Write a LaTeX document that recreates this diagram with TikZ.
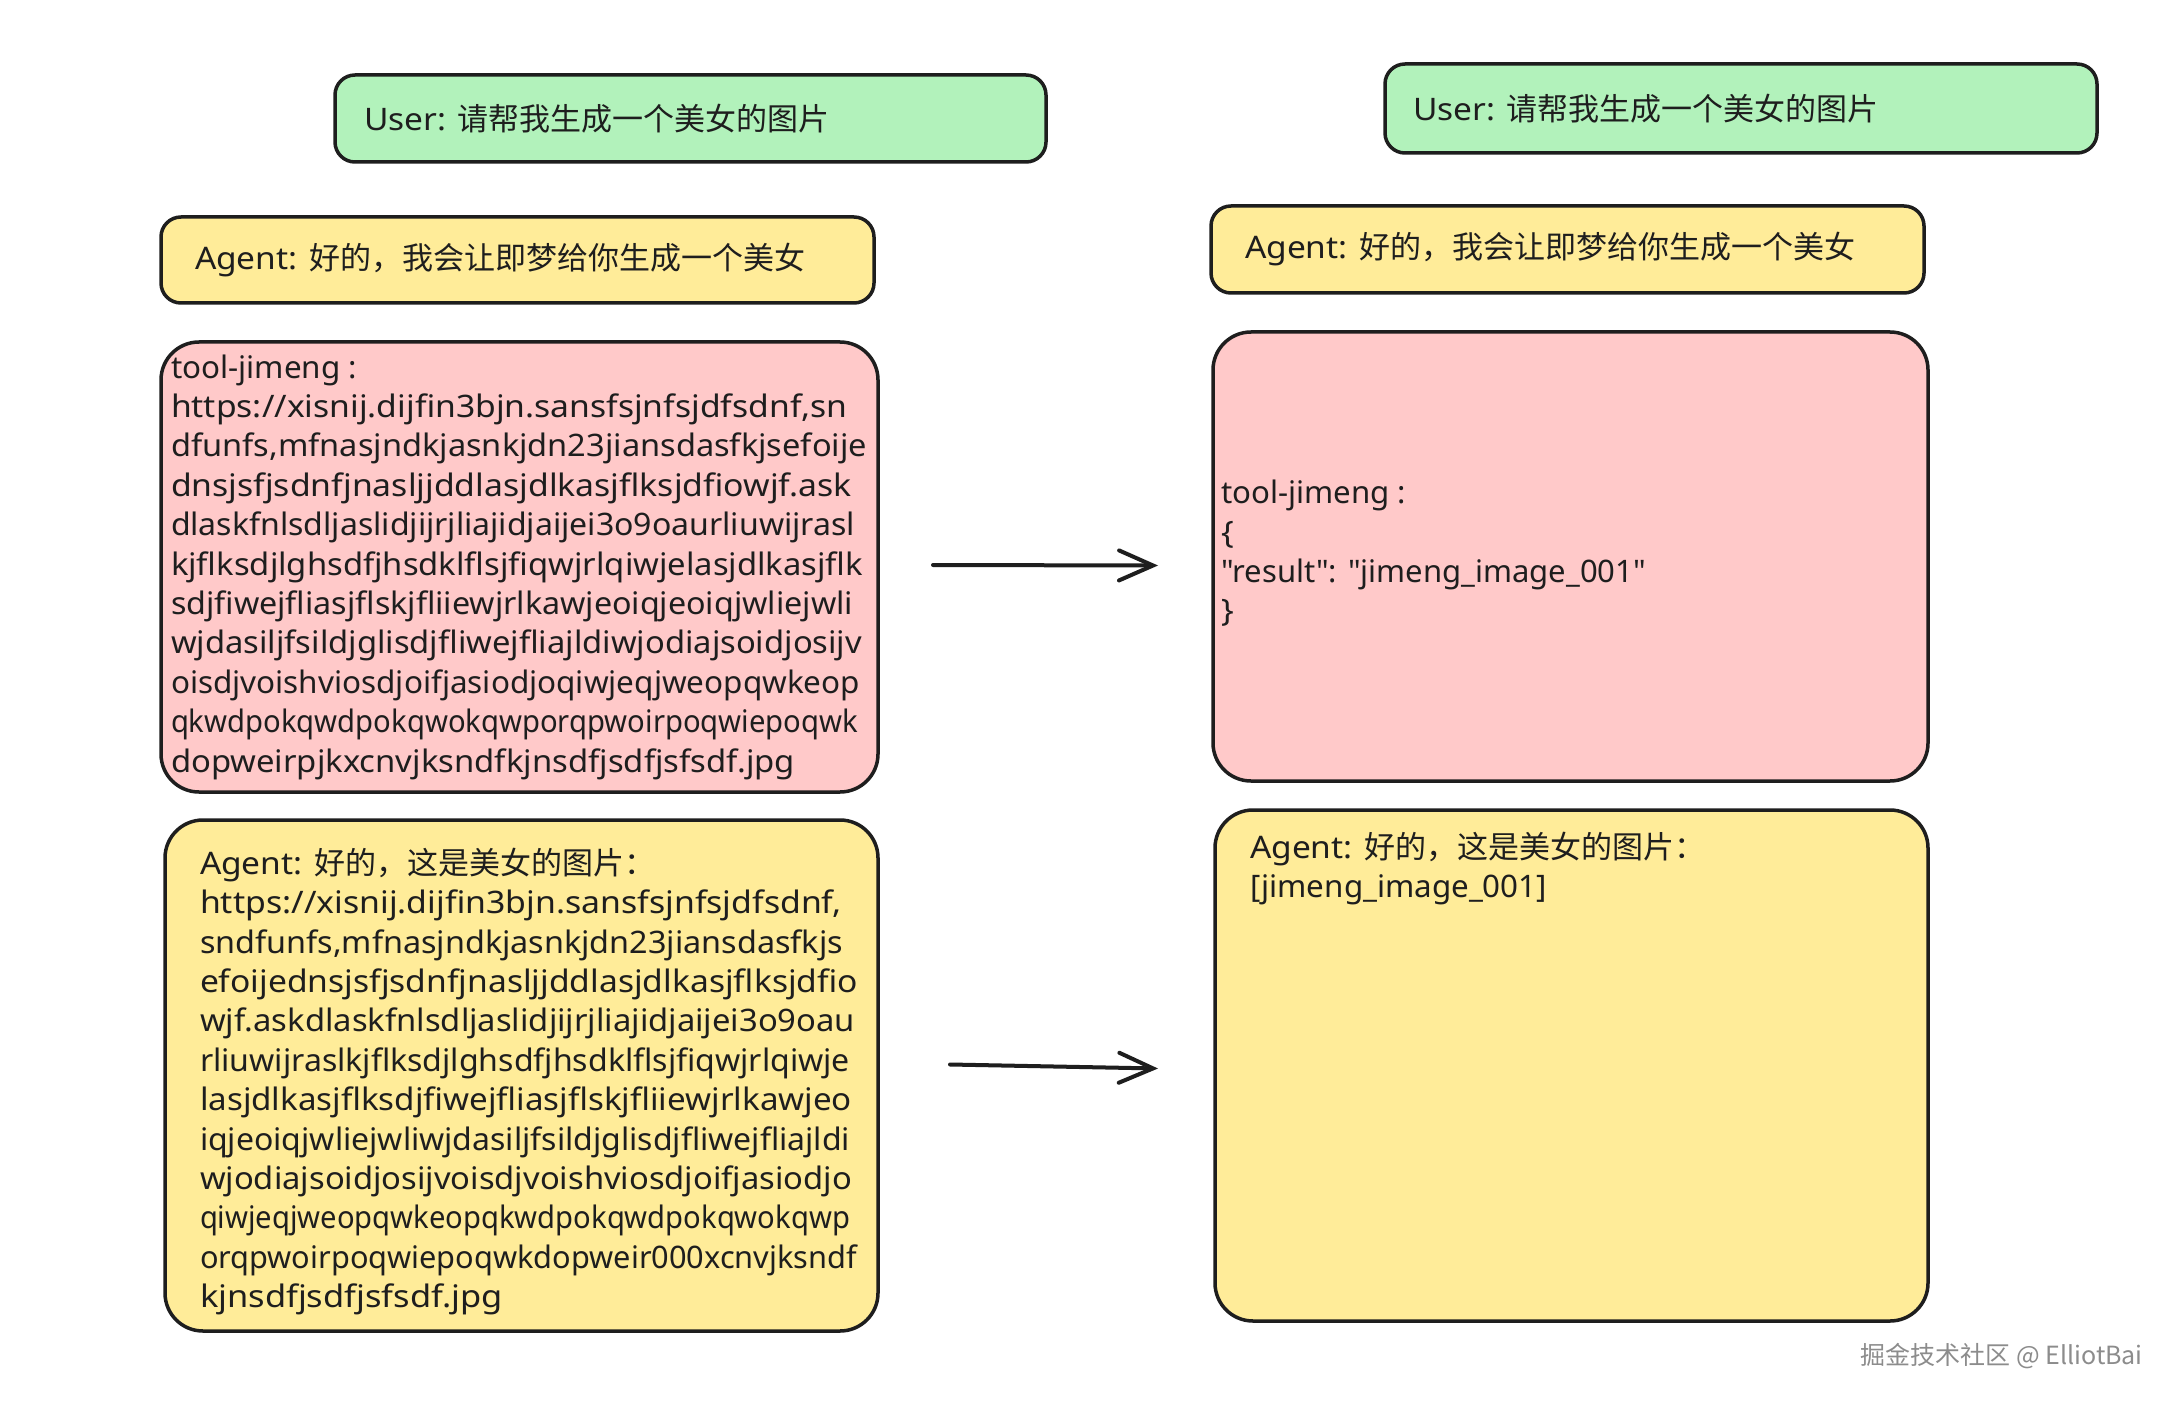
\documentclass[tikz,border=0pt]{standalone}
\usepackage{fontspec}
\usepackage{graphicx}
\setmainfont[FakeStretch=1.08,Ligatures=TeXOff]{Noto Sans}
\newfontfamily\cjk{Noto Sans CJK SC}
\usetikzlibrary{arrows.meta}
\newcommand\fitw[2]{\resizebox{#1pt}{\height}{#2}}
\definecolor{ink}{HTML}{1E1E1E}
\definecolor{greenfill}{HTML}{B2F2BB}
\definecolor{yellowfill}{HTML}{FFEC99}
\definecolor{pinkfill}{HTML}{FFC9C9}
\definecolor{wmgray}{HTML}{8C8C8C}
\tikzset{
  box/.style={draw=ink, line width=3.5pt, anchor=north west, inner sep=0pt, outer sep=0pt},
  smallbox/.style={box, rounded corners=20pt},
  bigbox/.style={box, rounded corners=38pt},
  txt/.style={inner sep=0pt, outer sep=0pt, text=ink, align=left, font=\fontsize{31pt}{39.4pt}\selectfont},
  flow/.style={draw=ink, line width=4pt, line cap=round, -{Straight Barb[length=34pt,width=30pt,line cap=round]}},
}
\begin{document}
\begin{tikzpicture}[x=1pt,y=-1pt]
\useasboundingbox[fill=white] (0,0) rectangle (2178,1404);
% boxes
\node[smallbox, fill=greenfill, minimum width=711pt, minimum height=87pt] (gL) at (335,75) {};
\node[smallbox, fill=greenfill, minimum width=712pt, minimum height=89pt] (gR) at (1385,64) {};
\node[smallbox, fill=yellowfill, minimum width=713pt, minimum height=86pt] (aL) at (161,217) {};
\node[smallbox, fill=yellowfill, minimum width=713pt, minimum height=87pt] (aR) at (1211,206) {};
\node[bigbox, fill=pinkfill, minimum width=717pt, minimum height=450pt] (pL) at (161,342) {};
\node[bigbox, fill=pinkfill, minimum width=715pt, minimum height=449pt] (pR) at (1213,332) {};
\node[bigbox, fill=yellowfill, minimum width=713pt, minimum height=511pt] (yL) at (165,820) {};
\node[bigbox, fill=yellowfill, minimum width=713pt, minimum height=511pt] (yR) at (1215,810) {};
% texts
\node[txt, anchor=west] (gLt) at ([xshift=29pt]gL.west) {User: {\cjk 请帮我生成一个美女的图片}};
\node[txt, anchor=west] (gRt) at ([xshift=28pt]gR.west) {User: {\cjk 请帮我生成一个美女的图片}};
\node[txt, anchor=west] (aLt) at ([xshift=34pt]aL.west) {Agent: {\cjk 好的，我会让即梦给你生成一个美女}};
\node[txt, anchor=west] (aRt) at ([xshift=34pt]aR.west) {Agent: {\cjk 好的，我会让即梦给你生成一个美女}};
\node[txt, anchor=west] (pLt) at ([xshift=10pt]pL.west) {\fitw{186}{tool-jimeng :}\\
\fitw{676}{https://xisnij.dijfin3bjn.sansfsjnfsjdfsdnf,sn}\\
\fitw{696}{dfunfs,mfnasjndkjasnkjdn23jiansdasfkjsefoije}\\
\fitw{681}{dnsjsfjsdnfjnasljjddlasjdlkasjflksjdfiowjf.ask}\\
\fitw{684}{dlaskfnlsdljaslidjijrjliajidjaijei3o9oaurliuwijrasl}\\
\fitw{692}{kjflksdjlghsdfjhsdklflsjfiqwjrlqiwjelasjdlkasjflk}\\
\fitw{682}{sdjfiwejfliasjflskjfliiewjrlkawjeoiqjeoiqjwliejwli}\\
\fitw{691}{wjdasiljfsildjglisdjfliwejfliajldiwjodiajsoidjosijv}\\
\fitw{689}{oisdjvoishviosdjoifjasiodjoqiwjeqjweopqwkeop}\\
\fitw{687}{qkwdpokqwdpokqwokqwporqpwoirpoqwiepoqwk}\\
\fitw{624}{dopweirpjkxcnvjksndfkjnsdfjsdfjsfsdf.jpg}};
\node[txt, anchor=west] (pRt) at ([xshift=8pt,yshift=3pt]pR.west) {\fitw{185}{tool-jimeng :}\\
\{\\
\fitw{425}{"result": "jimeng\_image\_001"}\\
\}};
\node[txt, anchor=west] (yLt) at ([xshift=35pt,yshift=-6pt]yL.west) {Agent: {\cjk 好的，这是美女的图片：}\\
\fitw{642}{https://xisnij.dijfin3bjn.sansfsjnfsjdfsdnf,}\\
\fitw{643}{sndfunfs,mfnasjndkjasnkjdn23jiansdasfkjs}\\
\fitw{658}{efoijednsjsfjsdnfjnasljjddlasjdlkasjflksjdfio}\\
\fitw{655}{wjf.askdlaskfnlsdljaslidjijrjliajidjaijei3o9oau}\\
\fitw{650}{rliuwijraslkjflksdjlghsdfjhsdklflsjfiqwjrlqiwje}\\
\fitw{652}{lasjdlkasjflksdjfiwejfliasjflskjfliiewjrlkawjeo}\\
\fitw{650}{iqjeoiqjwliejwliwjdasiljfsildjglisdjfliwejfliajldi}\\
\fitw{652}{wjodiajsoidjosijvoisdjvoishviosdjoifjasiodjo}\\
\fitw{650}{qiwjeqjweopqwkeopqkwdpokqwdpokqwokqwp}\\
\fitw{657}{orqpwoirpoqwiepoqwkdopweir000xcnvjksndf}\\
\fitw{303}{kjnsdfjsdfjsfsdf.jpg}};
\node[txt, anchor=north west] (yRt) at ([xshift=35pt,yshift=-22pt]yR.north west) {Agent: {\cjk 好的，这是美女的图片：}\\
\fitw{297}{[jimeng\_image\_001]}};
% arrows
\draw[flow] ([xshift=55pt,yshift=2pt]pL.east) -- ([xshift=-55pt,yshift=-9pt]pR.west);
\draw[flow] ([xshift=72pt,yshift=11pt]yL.east) -- ([xshift=-57pt,yshift=-3pt]yR.west);
% watermark
\node[inner sep=0pt, anchor=east, text=wmgray, font=\cjk\fontsize{25pt}{29pt}\selectfont] (wm) at (2143,1356) {掘金技术社区 @ ElliotBai};
\end{tikzpicture}
\end{document}
